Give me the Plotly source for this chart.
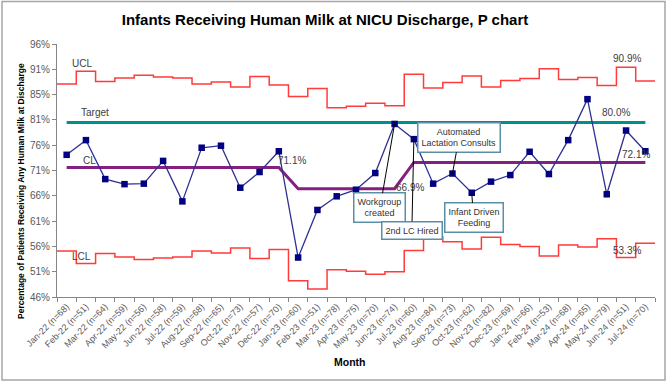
import plotly.graph_objects as go
import numpy as np

months = ["Jan-22","Feb-22","Mar-22","Apr-22","May-22","Jun-22","Jul-22","Aug-22","Sep-22","Oct-22","Nov-22","Dec-22",
          "Jan-23","Feb-23","Mar-23","Apr-23","May-23","Jun-23","Jul-23","Aug-23","Sep-23","Oct-23","Nov-23","Dec-23",
          "Jan-24","Feb-24","Mar-24","Apr-24","May-24","Jun-24","Jul-24"]
n_patients = [68,51,64,59,56,58,59,68,65,73,57,70,
              60,51,78,75,70,74,60,84,73,62,82,69,
              66,53,68,65,79,51,70]
pct = [73.6,76.5,68.8,67.8,67.9,72.4,64.4,75.0,75.4,67.1,70.2,74.3,
       53.3,62.7,65.4,66.7,70.0,79.7,76.7,67.9,69.9,66.1,68.3,69.6,
       74.2,69.8,76.5,84.6,65.8,78.4,74.3]
cl = [71.1]*12 + [66.9]*6 + [72.1]*13
target = [80.0]*31
ucl = [87.6,90.1,88.1,88.8,89.3,89.0,88.8,87.6,88.0,87.0,89.1,87.4,
       85.1,86.7,82.9,83.2,83.8,83.3,
       89.5,86.8,87.9,89.2,87.0,88.3,88.7,90.6,88.5,88.9,87.3,90.9,88.2]
lcl = [54.6,52.1,54.1,53.4,52.9,53.2,53.4,54.6,54.2,55.2,53.1,54.9,
       48.7,47.1,50.9,50.6,50.0,50.5,
       54.7,57.4,56.4,55.0,57.3,55.9,55.5,53.6,55.8,55.4,57.0,53.3,56.1]
y_tickvals = [45.5,50.5,55.5,60.5,65.5,70.5,75.5,80.5,85.5,90.5,95.5]
y_ticktext = ["46%","51%","56%","61%","66%","71%","76%","81%","85%","91%","96%"]

tick_labels = [f"{m} (n={n})" for m, n in zip(months, n_patients)]
idx = np.arange(len(months))
bounds = np.arange(len(months) + 1) - 0.5

fig = go.Figure()
fig.add_trace(go.Scatter(x=bounds, y=ucl + [ucl[-1]], mode="lines", line=dict(color="#FF3B3B", width=1.5, shape="hv"), hoverinfo="skip"))
fig.add_trace(go.Scatter(x=bounds, y=lcl + [lcl[-1]], mode="lines", line=dict(color="#FF3B3B", width=1.5, shape="hv"), hoverinfo="skip"))
fig.add_trace(go.Scatter(x=idx, y=target, mode="lines", line=dict(color="#00908C", width=3)))
fig.add_trace(go.Scatter(x=idx, y=cl, mode="lines", line=dict(color="#84207F", width=3)))
fig.add_trace(go.Scatter(x=idx, y=pct, mode="lines+markers", line=dict(color="#2E3192", width=1.3),
                         marker=dict(symbol="square", size=6.5, color="#000080")))

lab_font = dict(family="Liberation Sans, Arial", size=10, color="#404040")
labels = [("UCL", 0.78, 91.7), ("Target", 1.47, 82.0), ("CL", 1.17, 72.5), ("LCL", 0.78, 53.5),
          ("71.1%", 11.67, 72.4), ("66.9%", 17.8, 67.2), ("80.0%", 28.5, 82.0), ("72.1%", 29.5, 73.6),
          ("90.9%", 29.03, 92.7), ("53.3%", 29.03, 54.65)]
for t, x, y in labels:
    fig.add_annotation(x=x, y=y, text=t, showarrow=False, font=lab_font)

box_font = dict(family="Liberation Sans, Arial", size=9, color="#333333")
callouts = [("Workgroup<br>created", 17, pct[17], -14.6, 84),
            ("2nd LC Hired", 18, pct[18], -2, 91),
            ("Automated<br>Lactation Consults", 20, pct[20], 6.6, -36),
            ("Infant Driven<br>Feeding", 21, pct[21], 1.8, 25)]
for t, x, y, ax, ay in callouts:
    fig.add_annotation(x=x, y=y, text=t, showarrow=True, arrowhead=0, arrowwidth=1, arrowcolor="#000000",
                       ax=ax, ay=ay, standoff=0, font=box_font, bgcolor="white", bordercolor="#5B8FA8",
                       borderwidth=1.5, borderpad=3, align="center")

fig.add_annotation(text="<b>Percentage of Patients Receiving Any Human Milk at Discharge</b>", xref="paper", yref="paper",
                   x=(21 - 57) / 598, y=(297 - 191) / 253, xanchor="center", yanchor="middle", textangle=-90,
                   showarrow=False, font=dict(family="Liberation Sans, Arial", size=8.5, color="#000000"))
fig.add_annotation(text="<b>Month</b>", xref="paper", yref="paper", x=(350 - 57) / 598, y=(297 - 362) / 253,
                   xanchor="center", yanchor="middle",
                   showarrow=False, font=dict(family="Liberation Sans, Arial", size=10.5, color="#000000"))

fig.add_shape(type="rect", xref="paper", yref="paper", x0=(2 - 57) / 598, x1=(665 - 57) / 598,
              y0=(297 - 380) / 253, y1=(297 - 1.5) / 253, line=dict(color="#A6A6A6", width=1.5))

fig.update_layout(
    width=667, height=382, margin=dict(l=57, r=12, t=44, b=85, autoexpand=False),
    paper_bgcolor="white", plot_bgcolor="white", showlegend=False,
    title=dict(text="<b>Infants Receiving Human Milk at NICU Discharge, P chart</b>", x=325 / 667, xanchor="center",
               y=1 - 20 / 382, yanchor="middle", font=dict(family="Liberation Sans, Arial", size=15, color="#000000")),
)
fig.update_xaxes(range=[-0.5, 30.5], tickvals=idx, ticktext=tick_labels, tickangle=-45, ticks="",
                 tickfont=dict(family="Liberation Sans, Arial", size=9, color="#595959"),
                 showline=True, linecolor="#868686", linewidth=1, showgrid=False, zeroline=False, automargin=False,
                 minor=dict(tickvals=bounds, ticks="outside", ticklen=4, tickcolor="#868686", showgrid=False))
fig.update_yaxes(range=[45.5, 95.5], tickvals=y_tickvals, ticktext=y_ticktext, ticks="outside", ticklen=4,
                 tickcolor="#868686", tickfont=dict(family="Liberation Sans, Arial", size=10, color="#595959"),
                 showline=True, linecolor="#868686", linewidth=1, showgrid=False, zeroline=False, automargin=False)

fig.write_html("out.html", config={"displayModeBar": False},
               post_script="document.body.style.margin='0px';document.body.style.padding='0px';")
